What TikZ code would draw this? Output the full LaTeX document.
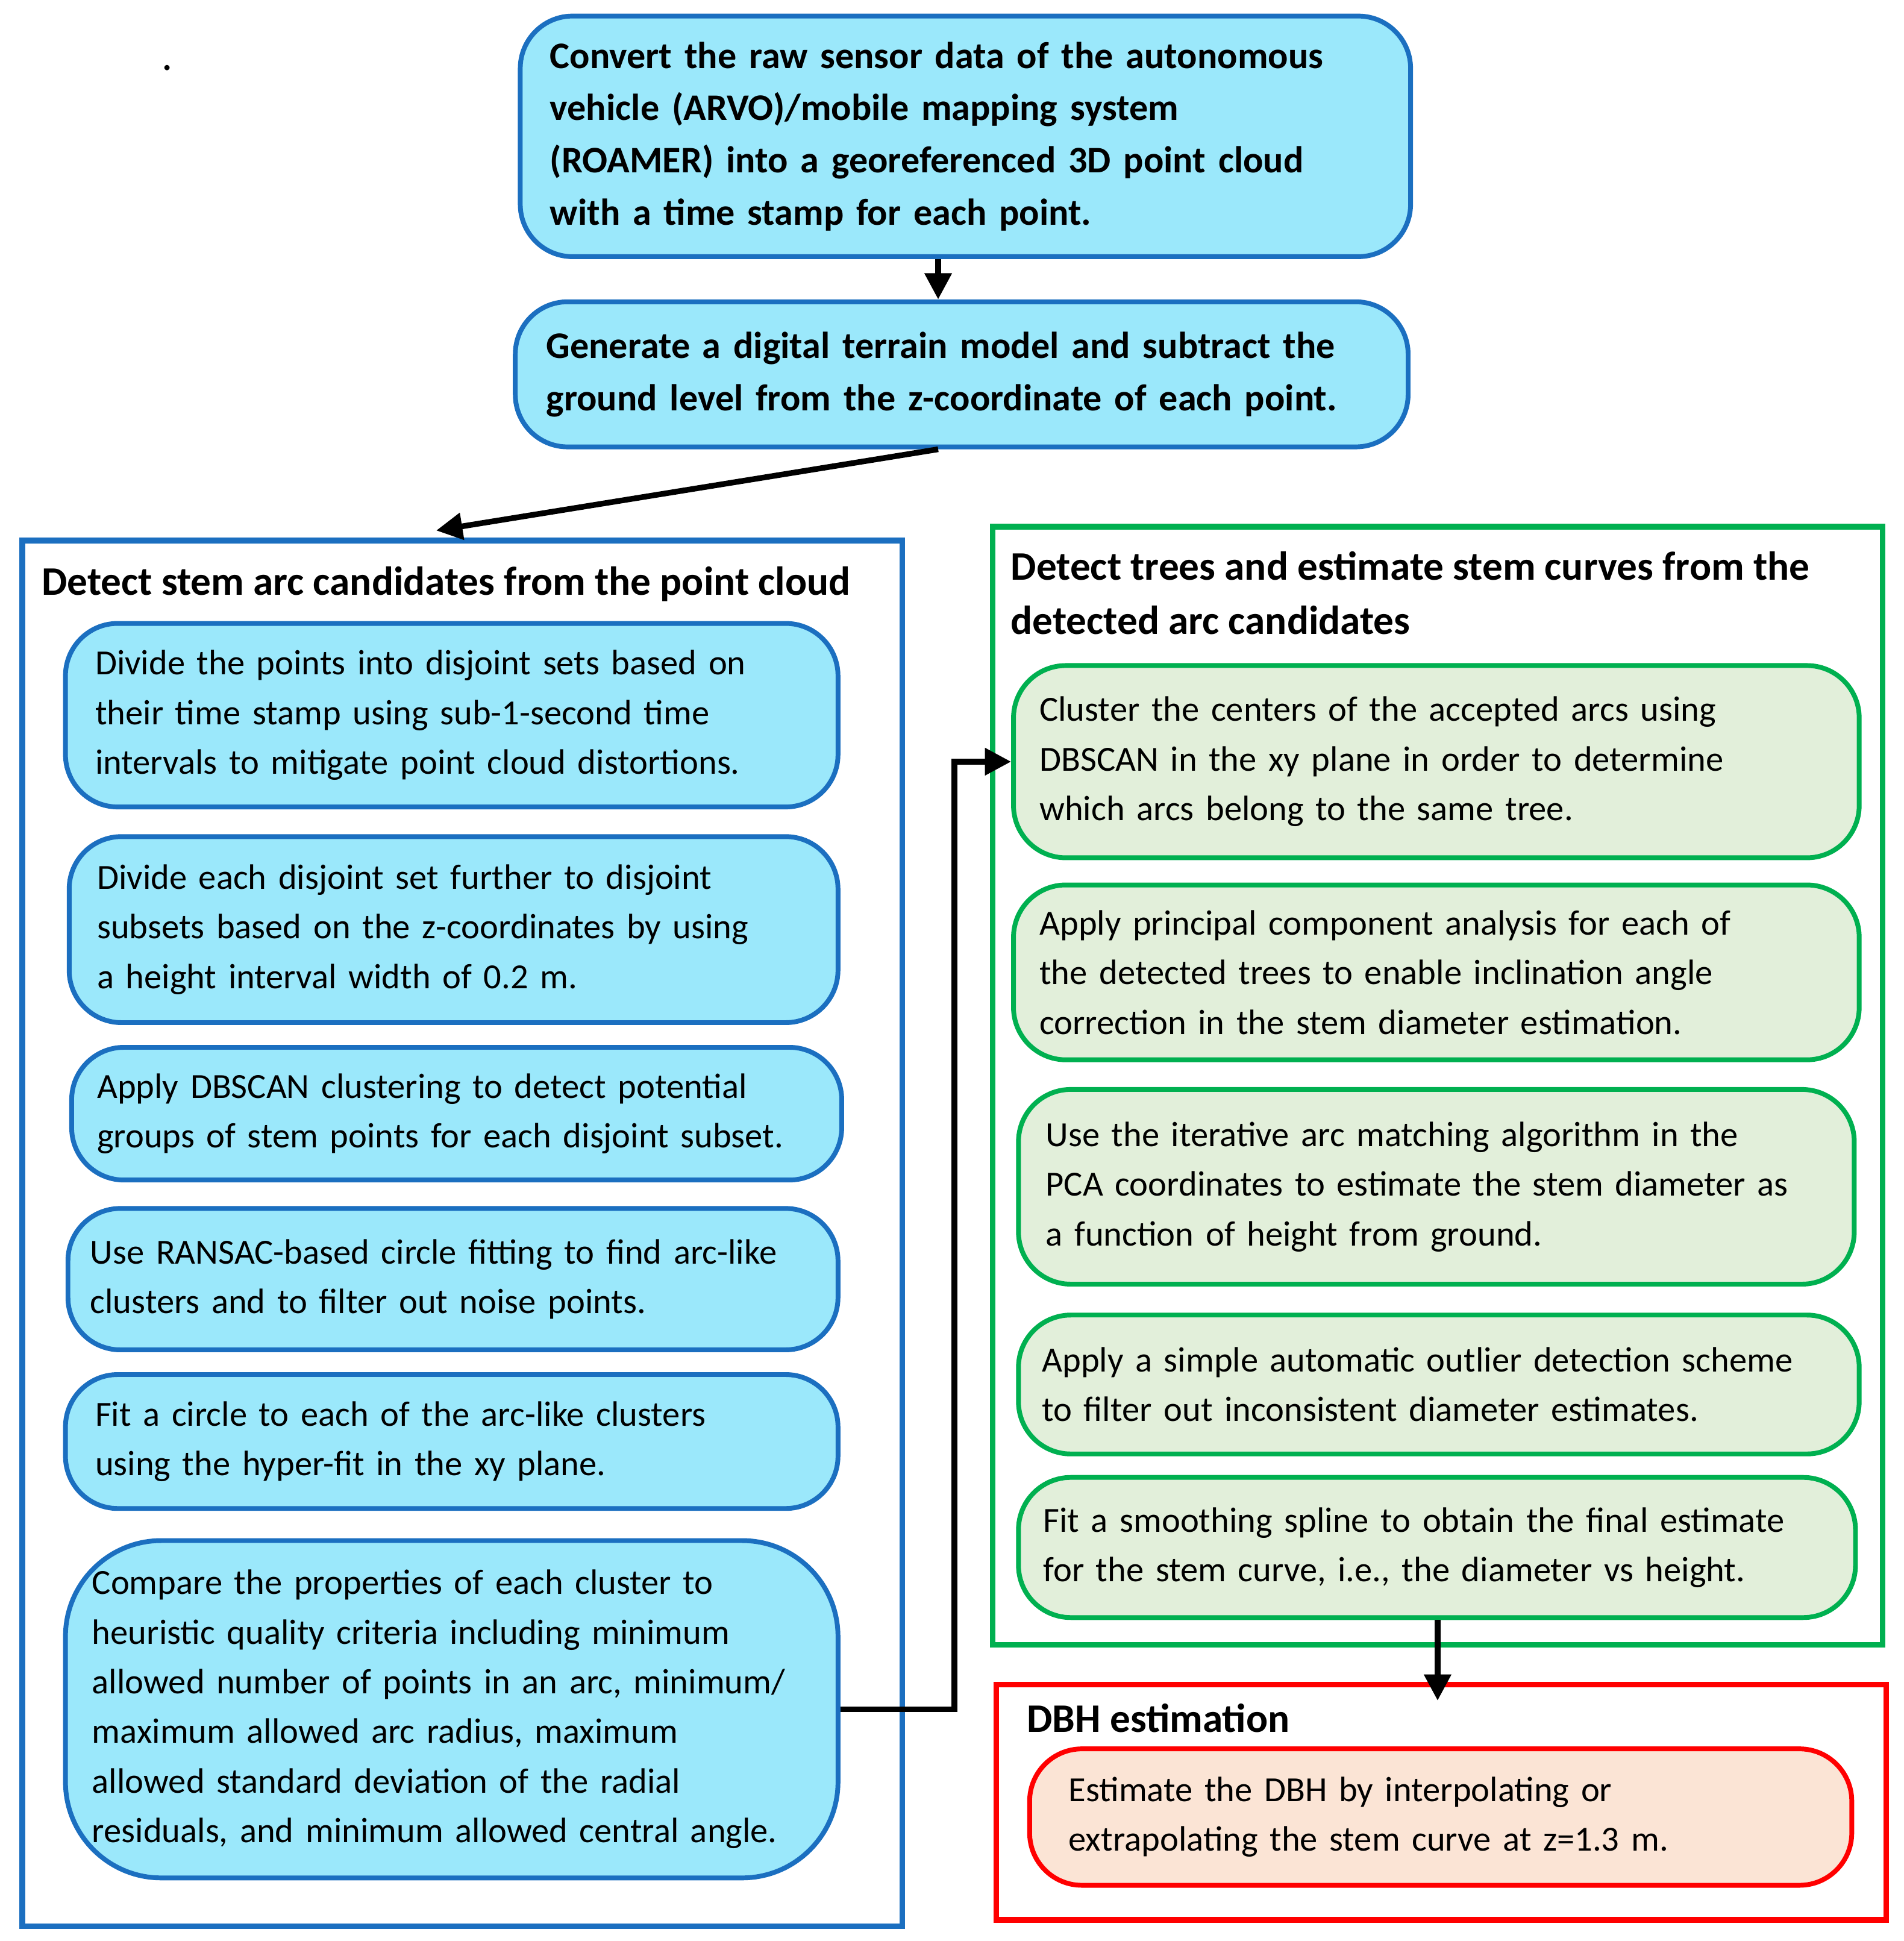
\documentclass[tikz,border=0pt]{standalone}
\usepackage{fontspec}
\setmainfont{Carlito}
\usetikzlibrary{arrows.meta,calc}
\definecolor{bluefill}{HTML}{9BE8FB}
\definecolor{blueline}{HTML}{1B6FC0}
\definecolor{greenline}{HTML}{00B050}
\definecolor{greenfill}{HTML}{E2EFDA}
\definecolor{redline}{HTML}{FF0000}
\definecolor{redfill}{HTML}{FBE4D5}
\tikzset{
	bbox/.style={draw=blueline,fill=bluefill,line width=1.1pt,rounded corners=12pt,align=left,font=\fontsize{8.1}{11.4}\selectfont},
	head/.style={bbox,font=\bfseries\fontsize{8.6}{12}\selectfont},
	gbox/.style={bbox,draw=greenline,fill=greenfill},
	rbox/.style={bbox,draw=redline,fill=redfill},
	frame/.style={line width=1.3pt},
	title/.style={anchor=west,align=left,inner sep=0,font=\bfseries\fontsize{9.3}{12.5}\selectfont},
	arr/.style={-{Triangle[length=6pt,width=6pt]},line width=1.3pt}
}
\begin{document}
\begin{tikzpicture}[x=0.01cm,y=-0.01cm]
	\useasboundingbox (0,0) rectangle (1536,1566);
	\node[inner sep=0] (dot) at (135,55) {.};

	\node[head,minimum width=7.18cm,minimum height=1.94cm,text width=6.7cm] (raw) at (779,110) {Convert the raw sensor data of the autonomous\\vehicle (ARVO)/mobile mapping system\\(ROAMER) into a georeferenced 3D point cloud\\with a time stamp for each point.};
	\node[head,minimum width=7.2cm,minimum height=1.17cm,text width=6.7cm] (dtm) at (776,302) {Generate a digital terrain model and subtract the\\ground level from the z-coordinate of each point.};

	% left frame
	\draw[frame,draw=blueline] (18,436) rectangle (728,1554);
	\node[title] (ltitle) at (33,471) {Detect stem arc candidates from the point cloud};
	\node[bbox,minimum width=6.23cm,minimum height=1.48cm,text width=5.75cm] (a) at (364.5,577) {Divide the points into disjoint sets based on\\their time stamp using sub-1-second time\\intervals to mitigate point cloud distortions.};
	\node[bbox,minimum width=6.2cm,minimum height=1.5cm,text width=5.75cm] (b) at (366,750) {Divide each disjoint set further to disjoint\\subsets based on the z-coordinates by using\\a height interval width of 0.2 m.};
	\node[bbox,minimum width=6.21cm,minimum height=1.07cm,text width=5.8cm] (c) at (368.5,898.5) {Apply DBSCAN clustering to detect potential\\groups of stem points for each disjoint subset.};
	\node[bbox,minimum width=6.21cm,minimum height=1.14cm,text width=5.85cm] (d) at (365.5,1032) {Use RANSAC-based circle fitting to find arc-like\\clusters and to filter out noise points.};
	\node[bbox,minimum width=6.23cm,minimum height=1.08cm,text width=5.75cm] (e) at (364.5,1163) {Fit a circle to each of the arc-like clusters\\using the hyper-fit in the xy plane.};
	\node[bbox,rounded corners=22pt,minimum width=6.23cm,minimum height=2.72cm,text width=5.8cm] (f) at (364.5,1379) {Compare the properties of each cluster to\\heuristic quality criteria including minimum\\allowed number of points in an arc, minimum/\\maximum allowed arc radius, maximum\\allowed standard deviation of the radial\\residuals, and minimum allowed central angle.};

	% right frame
	\draw[frame,draw=greenline] (801,425) rectangle (1519,1327);
	\node[title,anchor=north west] (rtitle) at (815,444) {Detect trees and estimate stem curves from the\\detected arc candidates};
	\node[gbox,minimum width=6.82cm,minimum height=1.55cm,text width=6.4cm] (g1) at (1159,614.5) {Cluster the centers of the accepted arcs using\\DBSCAN in the xy plane in order to determine\\which arcs belong to the same tree.};
	\node[gbox,minimum width=6.82cm,minimum height=1.41cm,text width=6.4cm] (g2) at (1159,784.5) {Apply principal component analysis for each of\\the detected trees to enable inclination angle\\correction in the stem diameter estimation.};
	\node[gbox,minimum width=6.74cm,minimum height=1.57cm,text width=6.3cm] (g3) at (1159,957.5) {Use the iterative arc matching algorithm in the\\PCA coordinates to estimate the stem diameter as\\a function of height from ground.};
	\node[gbox,minimum width=6.78cm,minimum height=1.12cm,text width=6.4cm] (g4) at (1161,1117) {Apply a simple automatic outlier detection scheme\\to filter out inconsistent diameter estimates.};
	\node[gbox,minimum width=6.75cm,minimum height=1.13cm,text width=6.35cm] (g5) at (1159.5,1248.5) {Fit a smoothing spline to obtain the final estimate\\for the stem curve, i.e., the diameter vs height.};

	% DBH frame
	\draw[frame,draw=redline] (804,1359) rectangle (1522,1549);
	\node[title] (btitle) at (828,1386) {DBH estimation};
	\node[rbox,minimum width=6.63cm,minimum height=1.1cm,text width=6.0cm] (r1) at (1162.5,1466) {Estimate the DBH by interpolating or\\extrapolating the stem curve at z=1.3 m.};

	\coordinate (ltop) at (352,428);
	\coordinate (btop) at (1160,1372);
	\draw[arr] (raw.south -| 757,0) -- (dtm.north -| 757,0);
	\draw[arr] (dtm.south -| 757,0) -- (ltop);
	\draw[arr] (f.east) -- ++(92,0) |- (g1.west);
	\draw[arr] (g5.south -| btop) -- (btop);
\end{tikzpicture}
\end{document}
